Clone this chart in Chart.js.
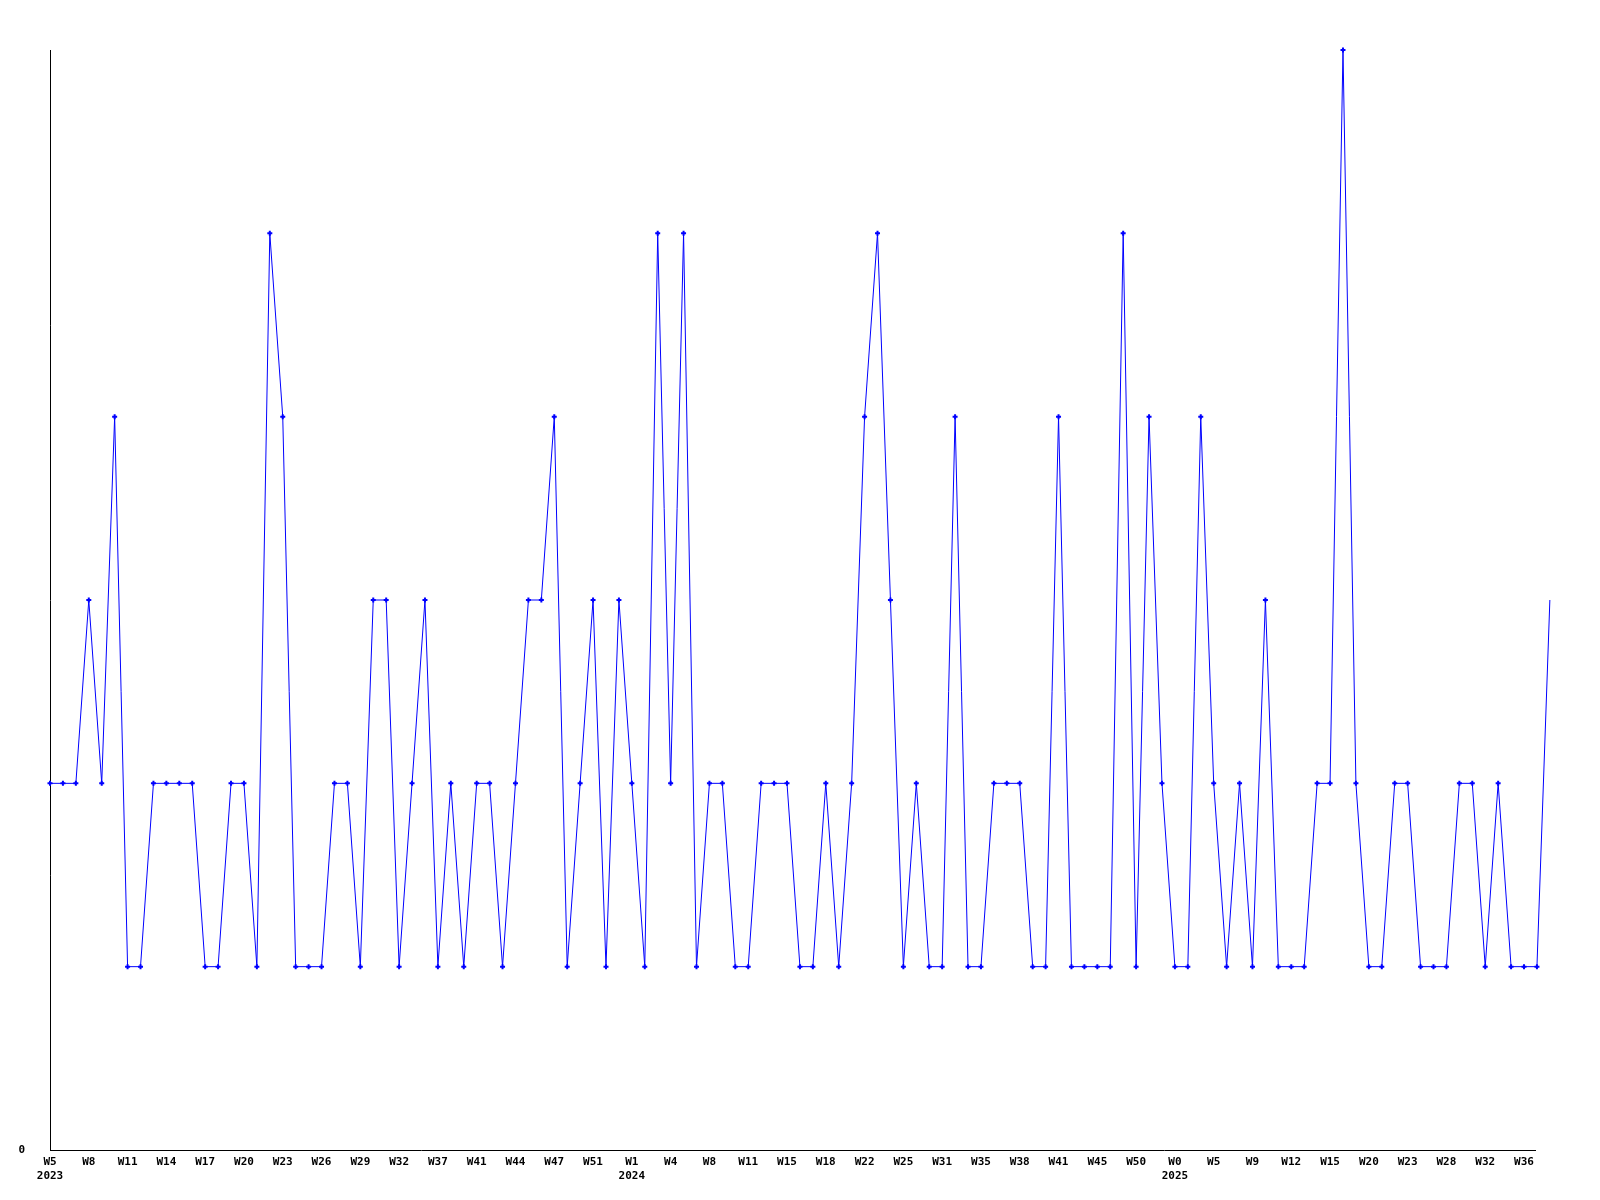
<!DOCTYPE html>
<html>
<head>
<meta charset="utf-8">
<script src="https://cdn.jsdelivr.net/npm/chart.js@4/dist/chart.umd.min.js"></script>
<style>
    body { margin: 0; background: #fff; }
    #wrap { width: 1600px; height: 1200px; }
</style>
</head>
<body>
<div id="wrap"><canvas id="myChart" width="1600" height="1200"></canvas></div>
<script>
// weekly counts, one per point
const counts = [
    2, 2, 2, 3, 2, 4, 1, 1, 2, 2,
    2, 2, 1, 1, 2, 2, 1, 5, 4, 1,
    1, 1, 2, 2, 1, 3, 3, 1, 2, 3,
    1, 2, 1, 2, 2, 1, 2, 3, 3, 4,
    1, 2, 3, 1, 3, 2, 1, 5, 2, 5,
    1, 2, 2, 1, 1, 2, 2, 2, 1, 1,
    2, 1, 2, 4, 5, 3, 1, 2, 1, 1,
    4, 1, 1, 2, 2, 2, 1, 1, 4, 1,
    1, 1, 1, 5, 1, 4, 2, 1, 1, 4,
    2, 1, 2, 1, 3, 1, 1, 1, 2, 2,
    6, 2, 1, 1, 2, 2, 1, 1, 1, 2,
    2, 1, 2, 1, 1, 1, 3
];

// x tick labels, one every 3 points
const weekTicks = [
    'W5', 'W8', 'W11', 'W14', 'W17', 'W20', 'W23', 'W26', 'W29', 'W32', 'W37', 'W41', 'W44', 'W47', 'W51',
    'W1', 'W4', 'W8', 'W11', 'W15', 'W18', 'W22', 'W25', 'W31', 'W35', 'W38', 'W41', 'W45', 'W50',
    'W0', 'W5', 'W9', 'W12', 'W15', 'W20', 'W23', 'W28', 'W32', 'W36'
];
const tickStep = 3;

// year shown under a tick (tick index -> year)
const yearTicks = { 0: '2023', 15: '2024', 29: '2025' };

const tickFont = { family: '"DejaVu Sans Mono", "Liberation Mono", monospace', size: 11, weight: 'bold', lineHeight: 1.27 };

const lastIdx = counts.length - 1;
// axis stops a little before the last point, which runs past it
const xEnd = 114.85;

new Chart(document.getElementById('myChart'), {
    type: 'line',
    data: {
        datasets: [{
            data: counts.map((v, i) => ({ x: i, y: v })),
            borderColor: '#0000ff',
            backgroundColor: '#0000ff',
            borderWidth: 1,
            tension: 0,
            fill: false,
            clip: false,
            pointStyle: 'cross',
            pointRadius: (c) => c.dataIndex === lastIdx ? 0 : 2.5,
            pointBorderWidth: 2,
            pointBorderColor: '#0000ff',
            pointHoverRadius: 0,
        }]
    },
    options: {
        responsive: false,
        animation: false,
        devicePixelRatio: 1,
        layout: { padding: { top: 50, right: 65, left: 0, bottom: 0 } },
        plugins: {
            legend: { display: false },
            tooltip: { enabled: false },
        },
        scales: {
            x: {
                type: 'linear',
                bounds: 'data',
                grid: { display: false, drawTicks: false },
                border: { display: true, color: '#000', width: 1 },
                afterBuildTicks: (axis) => {
                    axis.min = 0;
                    axis.max = xEnd;
                    axis.ticks = weekTicks.map((_, i) => ({ value: i * tickStep }));
                },
                afterFit: (axis) => { axis.height = 50; },
                ticks: {
                    autoSkip: false,
                    maxRotation: 0,
                    minRotation: 0,
                    padding: 5,
                    color: '#000',
                    font: tickFont,
                    callback: (value) => {
                        const i = Math.round(value / tickStep);
                        const week = weekTicks[i];
                        return yearTicks[i] ? [week, yearTicks[i]] : week;
                    }
                }
            },
            y: {
                min: 0,
                max: 6,
                grid: { display: false, drawTicks: false },
                border: { display: true, color: '#000', width: 1 },
                afterBuildTicks: (axis) => { axis.ticks = [{ value: 0 }]; },
                afterFit: (axis) => { axis.width = 50; },
                ticks: {
                    padding: 25,
                    color: '#000',
                    font: tickFont,
                    callback: (value) => String(value)
                }
            }
        }
    }
});
</script>
</body>
</html>
